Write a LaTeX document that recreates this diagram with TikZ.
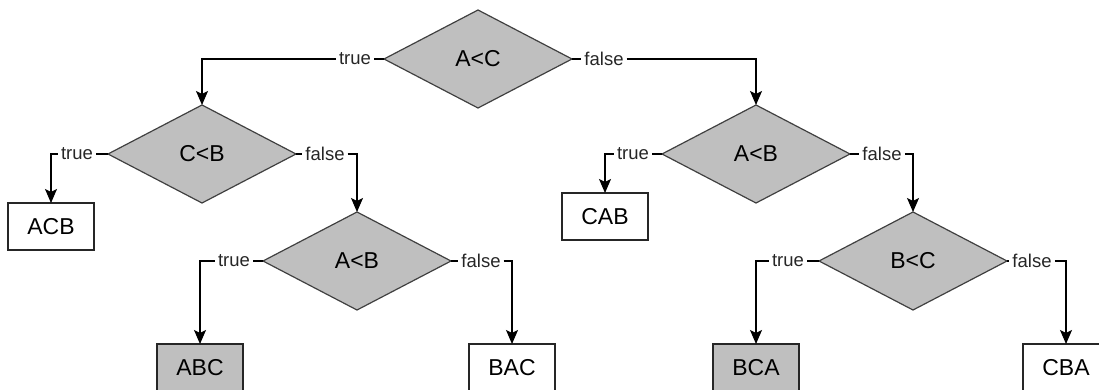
\documentclass[tikz,border=0pt]{standalone}
\usepackage{fontspec}
\setmainfont{Liberation Sans}
\usetikzlibrary{shapes.geometric,arrows.meta}
\tikzset{
	cond/.style={diamond,draw=black!75,fill=black!25,line width=1.2pt,minimum width=188pt,minimum height=98pt,inner sep=0pt,outer sep=0pt,font=\fontsize{23}{27}\selectfont},
	leaf/.style={rectangle,draw=black!85,fill=white,line width=1.2pt,minimum width=86pt,minimum height=47pt,inner sep=0pt,outer sep=0pt,font=\fontsize{23}{27}\selectfont},
	leafgray/.style={leaf,fill=black!25},
	lbl/.style={inner sep=3pt,text=black!85,font=\fontsize{18.5}{21}\selectfont},
	arr/.style={-{Stealth[length=14pt,width=12pt,inset=3pt]},line width=1.2pt}
}
\begin{document}
\begin{tikzpicture}[x=1pt,y=-1pt]
		\useasboundingbox (0,0) rectangle (1099,390);
		% conditions
		\node[cond] (ac) at (478,59) {A<C};
		\node[cond] (cb) at (202,154) {C<B};
		\node[cond] (abl) at (357,261) {A<B};
		\node[cond] (abr) at (756,154) {A<B};
		\node[cond] (bc) at (913,261) {B<C};
		% results
		\node[leaf] (acb) at (51,226.5) {ACB};
		\node[leaf] (cab) at (605,216.5) {CAB};
		\node[leafgray] (abc) at (200,367.5) {ABC};
		\node[leaf] (bac) at (512,367.5) {BAC};
		\node[leafgray] (bca) at (756,367.5) {BCA};
		\node[leaf] (cba) at (1066,367.5) {CBA};
		% labels
		\node[lbl] (t1) at (355,59) {true};
		\node[lbl] (f1) at (604,59) {false};
		\node[lbl] (t2) at (77,154) {true};
		\node[lbl] (f2) at (325,154) {false};
		\node[lbl] (t3) at (234,261) {true};
		\node[lbl] (f3) at (481,261) {false};
		\node[lbl] (t4) at (633,154) {true};
		\node[lbl] (f4) at (882,154) {false};
		\node[lbl] (t5) at (788,261) {true};
		\node[lbl] (f5) at (1032,261) {false};
		% branches
		\draw[arr] (ac.west) -- (t1) -| (cb.north);
		\draw[arr] (ac.east) -- (f1) -| (abr.north);
		\draw[arr] (cb.west) -- (t2) -| (acb.north);
		\draw[arr] (cb.east) -- (f2) -| (abl.north);
		\draw[arr] (abl.west) -- (t3) -| (abc.north);
		\draw[arr] (abl.east) -- (f3) -| (bac.north);
		\draw[arr] (abr.west) -- (t4) -| (cab.north);
		\draw[arr] (abr.east) -- (f4) -| (bc.north);
		\draw[arr] (bc.west) -- (t5) -| (bca.north);
		\draw[arr] (bc.east) -- (f5) -| (cba.north);
	\end{tikzpicture}
\end{document}
